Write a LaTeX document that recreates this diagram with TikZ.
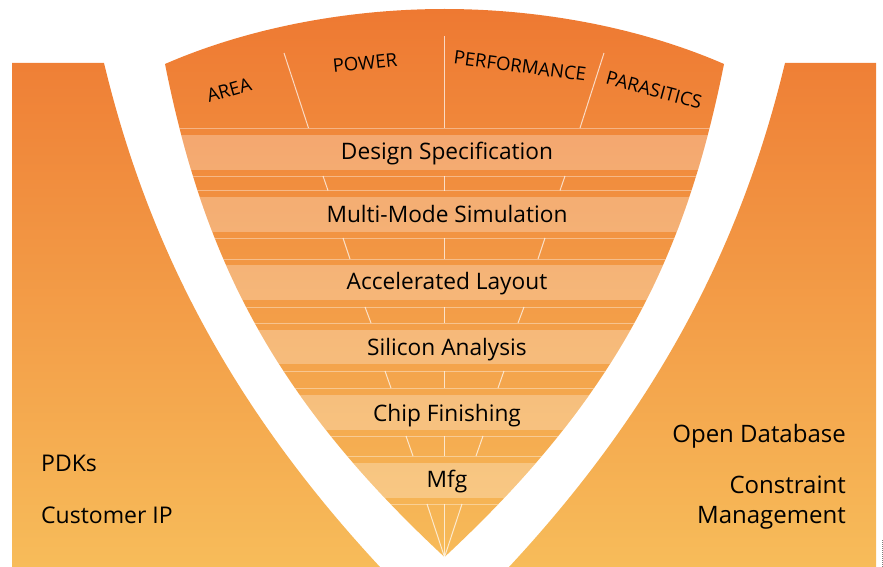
\documentclass[tikz,border=0pt]{standalone}
\usepackage{fontspec}
\setmainfont{Open Sans}
\definecolor{gradtop}{HTML}{EE7932}
\definecolor{gradbot}{HTML}{F7BC5A}
\tikzset{
  every node/.style={text=black,inner sep=0pt,font=\fontsize{22.7}{26}\selectfont},
  stage/.style={anchor=base},
  metric/.style={anchor=center,font=\fontsize{18.6}{22}\selectfont},
  lefttext/.style={anchor=base west,font=\fontsize{23}{27}\selectfont},
  righttext/.style={anchor=base east,font=\fontsize{24}{28}\selectfont},
  band/.style={fill=white,fill opacity=.27},
  rule/.style={draw=white,draw opacity=.38,line width=.8pt},
  spoke/.style={draw=white,draw opacity=.7,line width=1pt},
}
\def\grad{\shade[top color=gradtop,bottom color=gradbot] (0,9) rectangle (883,567);}
\def\funnelpath{(165,64) .. controls (250,27) and (350,9) .. (444.5,9) .. controls (539,9) and (639,27) .. (724,64)
  .. controls (686,254) and (619,395) .. (444.5,557) .. controls (270,395) and (203,254) .. (165,64) -- cycle}
\begin{document}
\begin{tikzpicture}[x=1pt,y=-1pt]
\useasboundingbox (0,0) rectangle (883,567);
% side panels
\begin{scope}
\clip (12,63) -- (104,63) .. controls (145,233) and (222,397) .. (380,567) -- (12,567) -- cycle;
\grad
\end{scope}
\begin{scope}
\clip (876,63) -- (785,63) .. controls (744,233) and (667,397) .. (509,567) -- (876,567) -- cycle;
\grad
\end{scope}
% funnel
\begin{scope}
\clip \funnelpath;
\grad
\foreach \a/\b in {135/170,197/232,265/300,330/364,395/430,463/498}
  \fill[band] (100,\a) rectangle (800,\b);
\foreach \y in {128,176,190.5,238,259,307,323,371,388,436,456,504}
  \draw[rule] (100,\y) -- (800,\y);
\foreach \a/\b in {36/128,176/190.5,238/259,307/323,371/388,436/456,504/557}
  \draw[spoke] (444.5,\a) -- (444.5,\b);
\foreach \xa/\ya/\xb/\yb in {284/53/308.5/128,323/176/328/190.5,343/238/350/259,365/307/371/323,385/371/391/388,406/436/413/456,427/504/444.5/557,
  604/53/580/128,565/176/560/190.5,545/238/538/259,524/307/518/323,504/371/498/388,483/436/476/456,462/504/444.5/557}
  \draw[spoke] (\xa,\ya) -- (\xb,\yb);
\end{scope}
% labels
\node[metric,rotate=16] (area) at (229,90) {AREA};
\node[metric,rotate=6] (power) at (365,63) {POWER};
\node[metric,rotate=-7.5] (perf) at (520,66) {PERFORMANCE};
\node[metric,rotate=-15] (para) at (654,90) {PARASITICS};
\node[stage] (s1) at (447,159) {Design Specification};
\node[stage] (s2) at (447,222) {Multi-Mode Simulation};
\node[stage] (s3) at (447,289) {Accelerated Layout};
\node[stage] (s4) at (447,355) {Silicon Analysis};
\node[stage] (s5) at (447,421) {Chip Finishing};
\node[stage] (s6) at (447,487) {Mfg};
\node[lefttext] (pdk) at (41,471) {PDKs};
\node[lefttext] (cip) at (41,523) {Customer IP};
\node[righttext] (odb) at (846,442) {Open Database};
\node[righttext] (con) at (846,493) {Constraint};
\node[righttext] (mgt) at (846,523) {Management};
\draw[gray,densely dotted,line width=1pt] (882,540) -- (882,567);
\end{tikzpicture}
\end{document}
